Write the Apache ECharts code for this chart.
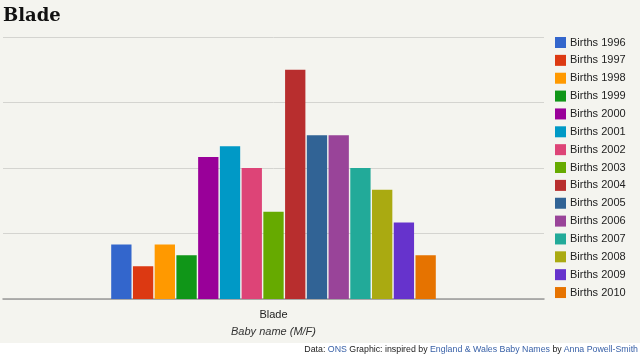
<!DOCTYPE html>
<html><head><meta charset="utf-8">
<script src="https://cdn.jsdelivr.net/npm/echarts@6/dist/echarts.min.js"></script>
<style>
html,body{margin:0;padding:0;background:#fff;}
#chart{width:640px;height:343px;background:#f4f4ef;}
#foot{position:absolute;left:0;top:342px;width:638px;text-align:right;font-family:"Liberation Sans",Arial,sans-serif;font-size:8.8px;color:#222;line-height:14px;}
#foot a{color:#3a62a8;text-decoration:none;}
</style></head>
<body>
<div id="chart"></div>
<div id="foot">Data: <a href="#">ONS</a> Graphic: inspired by <a href="#">England &amp; Wales Baby Names</a> by <a href="#">Anna Powell-Smith</a></div>
<script>
const title = "Blade";
const categories = ["Blade"];
const seriesNames = ["Births 1996","Births 1997","Births 1998","Births 1999","Births 2000","Births 2001","Births 2002","Births 2003","Births 2004","Births 2005","Births 2006","Births 2007","Births 2008","Births 2009","Births 2010"];
const seriesValues = [5,3,5,4,13,14,12,8,21,15,15,12,10,7,4];
const colors = ["#3366cc","#dc3912","#ff9900","#109618","#990099","#0099c6","#dd4477","#66aa00","#b82e2e","#316395","#994499","#22aa99","#aaaa11","#6633cc","#e67300"];
const axisName = "Baby name (M/F)";
const yMax = 24, yInterval = 6;

const chart = echarts.init(document.getElementById('chart'), null, {renderer:'canvas'});
const series = seriesNames.map((n,i)=>({
  name:n, type:'bar', data:[seriesValues[i]],
  barCategoryGap:'40%', barGap:'7%',
  itemStyle:{color:colors[i]}
}));
chart.setOption({
  backgroundColor:'#f4f4ef',
  color:colors,
  animation:false,
  title:{text:title,left:3,top:7,padding:0,textStyle:{fontFamily:'DejaVu Serif',fontWeight:'bold',fontSize:18,color:'#111'}},
  legend:{orient:'vertical',left:555,top:37,padding:0,itemWidth:11,itemHeight:11,itemGap:6.86,
    icon:'rect',textStyle:{fontFamily:'Liberation Sans',fontSize:11,color:'#222',padding:[0,0,0,-1]},
    data:seriesNames},
  grid:{left:3,right:96,top:37,bottom:44,containLabel:false},
  xAxis:{type:'category',data:categories,
    axisLine:{lineStyle:{color:'#999',width:1.5}},axisTick:{show:false},
    axisLabel:{margin:10,fontFamily:'Liberation Sans',fontSize:11,color:'#222'},
    name:axisName,nameLocation:'middle',nameGap:27,
    nameTextStyle:{fontFamily:'Liberation Sans',fontSize:11,fontStyle:'italic',color:'#333'}},
  yAxis:{type:'value',min:0,max:yMax,interval:yInterval,
    axisLabel:{show:false},axisLine:{show:false},axisTick:{show:false},
    splitLine:{lineStyle:{color:'#d4d4d0',width:1}}},
  series:series
});
</script>
</body></html>
